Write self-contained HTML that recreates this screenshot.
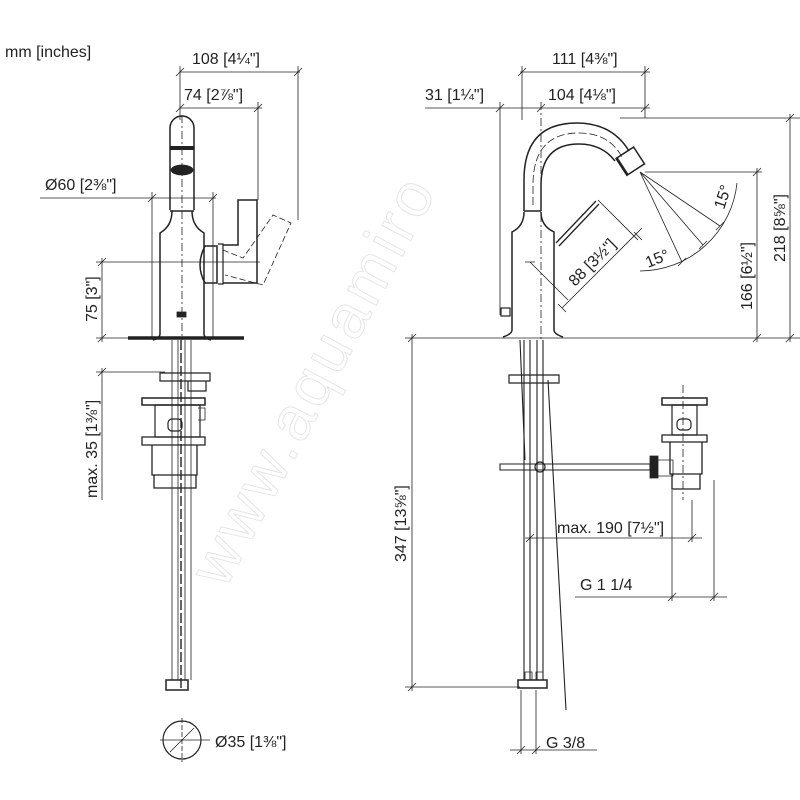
<!DOCTYPE html>
<html><head><meta charset="utf-8"><style>
html,body{margin:0;padding:0;background:#fff;}
svg{display:block;font-family:"Liberation Sans",sans-serif;}
</style></head><body>
<svg width="800" height="800" viewBox="0 0 800 800" xmlns="http://www.w3.org/2000/svg">
<text transform="translate(225,590) rotate(-62)" font-size="62" fill="none" stroke="#e6e6e6" stroke-width="1" style="letter-spacing:4px">www.aquamiro</text>
<g fill="none" stroke="#222" stroke-width="0.8">
<line x1="180" y1="72" x2="300" y2="72"/>
<line x1="180" y1="66" x2="180" y2="120"/>
<line x1="298" y1="66" x2="298" y2="220"/>
<line x1="180" y1="108" x2="262" y2="108"/>
<line x1="258" y1="102" x2="258" y2="200"/>
<path d="M176 76l8-8M294 76l8-8M176 112l8-8M254 112l8-8"/>
<line x1="40" y1="198" x2="216" y2="198"/>
<line x1="152" y1="192" x2="152" y2="338"/>
<line x1="213" y1="192" x2="213" y2="338"/>
<path d="M148 202l8-8M209 202l8-8"/>
<line x1="96" y1="262" x2="260" y2="262"/>
<line x1="102" y1="258" x2="102" y2="342"/>
<line x1="96" y1="338" x2="130" y2="338"/>
<line x1="96" y1="372" x2="165" y2="372"/>
<line x1="102" y1="368" x2="102" y2="500"/>
<path d="M98 266l8-8M98 342l8-8M98 376l8-8"/>
<path d="M170 210V128a12 12 0 0 1 24 0V210" stroke-width="1.5"/>
<path d="M170 148h24" stroke-width="4"/>
<ellipse cx="182" cy="170" rx="11" ry="5" fill="#222"/>
<path d="M170 211h24" stroke-width="1.5"/>
<path d="M172 211q0 15-12 22V334q0 4-7 6M192 211q0 15 12 22V334q0 4 7 6" stroke-width="1.5"/>
<line x1="182" y1="115" x2="182" y2="340" stroke-dasharray="8 3 2 3"/>
<rect x="177" y="312" width="9" height="5" fill="#222"/>
<path d="M205 246h12v37h-12q-10-18 0-37z" stroke-width="1.5"/>
<path d="M218 244h5v40h-5" stroke-width="1.2"/>
<path d="M223 245h15v-45h19v83h-34" stroke-width="1.5"/>
<path d="M223 250l20 8 30-43 18 8-28 62-38-10" stroke-dasharray="6 3"/>
<line x1="128" y1="338" x2="244" y2="338" stroke-width="3.5"/>
<path d="M172 340V680M178 340V680M185 340V680M191 340V680"/>
<path d="M181 340V690" stroke-dasharray="10 3" stroke-width="1.4"/>
<path d="M160 373h50v8h-50zM165 381h14M188 381v10h18v-10" stroke-width="1.2"/>
<path d="M142 398h63v7h-63z" stroke-width="1.5"/>
<path d="M155 405h45v32h-45z" stroke-width="1.2"/>
<rect x="168" y="419" width="14" height="12" rx="4" stroke-width="1.2"/>
<path d="M198 408h7v12h-7"/>
<path d="M142 437h63v8h-63zM152 445h45v30h-45zM154 475h42v13h-42z" stroke-width="1.3"/>
<path d="M166 680h22v10h-22z" stroke-width="1.5"/>
<circle cx="182" cy="740" r="19" stroke-width="1.2"/>
<line x1="160" y1="740" x2="210" y2="740"/>
<line x1="182" y1="718" x2="182" y2="762" stroke-dasharray="5 2"/>
<path d="M170 752l24-24"/>

<line x1="425" y1="108" x2="650" y2="108"/>
<line x1="520" y1="72" x2="650" y2="72"/>
<line x1="500" y1="102" x2="500" y2="315"/>
<line x1="522" y1="66" x2="522" y2="120"/>
<line x1="541" y1="102" x2="541" y2="340" stroke-dasharray="8 3 2 3"/>
<line x1="645" y1="66" x2="645" y2="118"/>
<path d="M496 112l8-8M537 112l8-8M641 112l8-8M518 76l8-8M641 76l8-8"/>
<line x1="620" y1="118" x2="800" y2="118"/>
<line x1="645" y1="172" x2="762" y2="172"/>
<line x1="757" y1="168" x2="757" y2="342"/>
<line x1="790" y1="114" x2="790" y2="342"/>
<path d="M753 176l8-8M753 342l8-8M786 122l8-8M786 342l8-8"/>
<line x1="405" y1="338" x2="800" y2="338"/>
<path d="M524 211V180q0-57 53-57q35 0 52 28" stroke-width="1.5"/>
<path d="M541 211V185q0-41 38-41q23 0 36 17" stroke-width="1.5"/>
<path d="M524 211h17" stroke-width="1.5"/>
<path d="M533 205v-20q0-52 46-52q30 0 43 24" stroke-dasharray="8 3"/>
<g transform="translate(629,162) rotate(-33)">
<rect x="-9" y="-10" width="21" height="20" stroke-width="1.5"/>
<line x1="-8" y1="-10" x2="-8" y2="10" stroke-width="2"/>
</g>
<path d="M524 212q0 14-12 20V330q0 4-9 7M541 212q0 14 13 20V330q0 4 9 7" stroke-width="1.5"/>
<rect x="501" y="308" width="9" height="8" stroke-width="1.2"/>
<path d="M556 243l40-42M559 246l40-42" stroke-width="1.3"/>
<path d="M535 262l-10 0M530 262l38 38M598 200l40 40M562 308l80-80M558 304l8 8M634 232l8 8"/>
<path d="M640 172L682 262M640 172L703 245M640 172L720 226"/>
<path d="M737 183A98 98 0 0 1 640 271"/>
<path d="M678 266l8-8M699 249l8-8M716 230l8-8"/>
<path d="M524 340V680M530 340V680M537 340V680M543 340V680" stroke-width="1.1"/>
<path d="M520 340l5 120M548 380l18 330" stroke-width="1.1"/>
<path d="M518 680h29v8h-29z" stroke-width="1.5"/>
<path d="M525 672h7v8h-7zM536 672h7v8h-7z"/>
<path d="M509 375h50v8h-50z" stroke-width="1.2"/>
<path d="M500 464h150v6h-150z" stroke-width="1.1"/>
<circle cx="540" cy="467" r="5" stroke-width="1.2"/>
<path d="M650 456h8v22h-8z" fill="#222"/>
<path d="M658 460h15v16h-15"/>
<line x1="683" y1="385" x2="683" y2="500" stroke-dasharray="8 3 2 3"/>
<path d="M662 398h45v7h-45z" stroke-width="1.5"/>
<path d="M672 405h25v30h-25z" stroke-width="1.2"/>
<rect x="677" y="419" width="14" height="11" rx="4" stroke-width="1.2"/>
<path d="M662 435h45v7h-45zM670 442h32v32h-32zM672 474h28v15h-28z" stroke-width="1.3"/>
<line x1="412" y1="334" x2="412" y2="691"/>
<line x1="405" y1="687" x2="520" y2="687"/>
<path d="M408 342l8-8M408 691l8-8"/>
<line x1="525" y1="538" x2="702" y2="538"/>
<line x1="692" y1="500" x2="692" y2="542"/>
<path d="M526 542l8-8M688 542l8-8"/>
<line x1="575" y1="597" x2="727" y2="597"/>
<line x1="672" y1="490" x2="672" y2="601"/>
<line x1="714" y1="480" x2="714" y2="601"/>
<path d="M668 601l8-8M710 601l8-8"/>
<line x1="510" y1="750" x2="597" y2="750"/>
<line x1="521" y1="690" x2="521" y2="754"/>
<line x1="536" y1="690" x2="536" y2="754"/>
<path d="M517 754l8-8M532 754l8-8"/>
</g>
<g fill="#222" font-size="16">
<text x="5" y="57">mm [inches]</text>
<text x="192" y="64">108 [4¼"]</text>
<text x="184" y="100">74 [2⅞"]</text>
<text x="45" y="190">Ø60 [2⅜"]</text>
<text transform="translate(97,322) rotate(-90)">75 [3"]</text>
<text transform="translate(97,498) rotate(-90)">max. 35 [1⅜"]</text>
<text x="215" y="747">Ø35 [1⅜"]</text>
<text x="552" y="64">111 [4⅜"]</text>
<text x="548" y="100">104 [4⅛"]</text>
<text x="425" y="100">31 [1¼"]</text>
<text transform="translate(785,262) rotate(-90)">218 [8⅝"]</text>
<text transform="translate(752,310) rotate(-90)">166 [6½"]</text>
<text transform="translate(724,210) rotate(-72)">15°</text>
<text transform="translate(648,268) rotate(-22)">15°</text>
<text transform="translate(575,287) rotate(-45)">88 [3½"]</text>
<text transform="translate(406,562) rotate(-90)">347 [13⅝"]</text>
<text x="557" y="533">max. 190 [7½"]</text>
<text x="580" y="590">G 1 1/4</text>
<text x="546" y="748">G 3/8</text>
</g>
</svg>
</body></html>
